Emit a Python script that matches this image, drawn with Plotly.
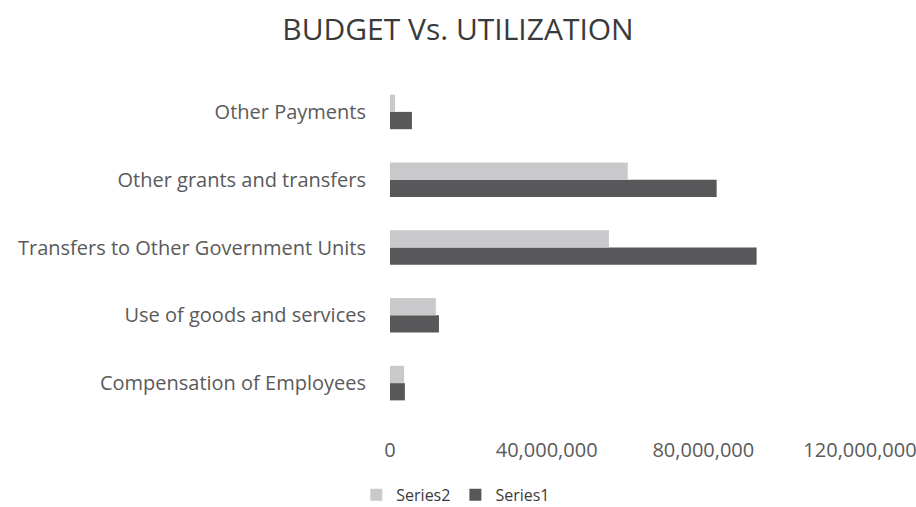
import plotly.graph_objects as go

categories = ["Compensation of Employees", "Use of goods and services",
              "Transfers to Other Government Units", "Other grants and transfers",
              "Other Payments"]
series1 = [3.8e6, 12.5e6, 93.6e6, 83.4e6, 5.6e6]
series2 = [3.6e6, 11.7e6, 55.9e6, 60.7e6, 1.3e6]
x_ticks = [0, 40e6, 80e6, 120e6]
x_tick_labels = ["0", "40,000,000", "80,000,000", "120,000,000"]

font_family = "'Open Sans', Lato, sans-serif"

fig = go.Figure()
fig.add_trace(go.Bar(y=categories, x=series1, name="Series1", orientation="h",
                     marker=dict(color="#58585a", line=dict(width=0))))
fig.add_trace(go.Bar(y=categories, x=series2, name="Series2", orientation="h",
                     marker=dict(color="#c9c9cb", line=dict(width=0))))

fig.update_layout(
    width=916, height=507,
    paper_bgcolor="white", plot_bgcolor="white",
    margin=dict(l=390, r=56, t=78, b=90, autoexpand=False),
    barmode="group", bargap=0.49, bargroupgap=0,
    title=dict(text="BUDGET Vs. UTILIZATION", x=0.5, xanchor="center",
               y=0.941, yanchor="middle", yref="container",
               font=dict(family=font_family, size=30, color="#3a3a3a")),
    font=dict(family=font_family, size=20, color="#5a5a5a"),
    legend=dict(orientation="h", x=0.14, xanchor="center", xref="paper",
                y=-0.23, yanchor="middle", traceorder="reversed",
                font=dict(size=16, color="#3a3a3a")),
    showlegend=True,
)
fig.update_xaxes(range=[0, 120e6], tickvals=x_ticks, ticktext=x_tick_labels,
                 showgrid=False, zeroline=False, showline=False, automargin=False,
                 ticklabelstandoff=19, ticklabeloverflow="allow", fixedrange=True)
fig.update_yaxes(showgrid=False, zeroline=False, showline=False, automargin=False,
                 ticklabelstandoff=23, fixedrange=True)

fig.write_html("out.html", config={"displayModeBar": False},
               post_script="document.body.style.margin='0';document.body.style.overflow='hidden';")
